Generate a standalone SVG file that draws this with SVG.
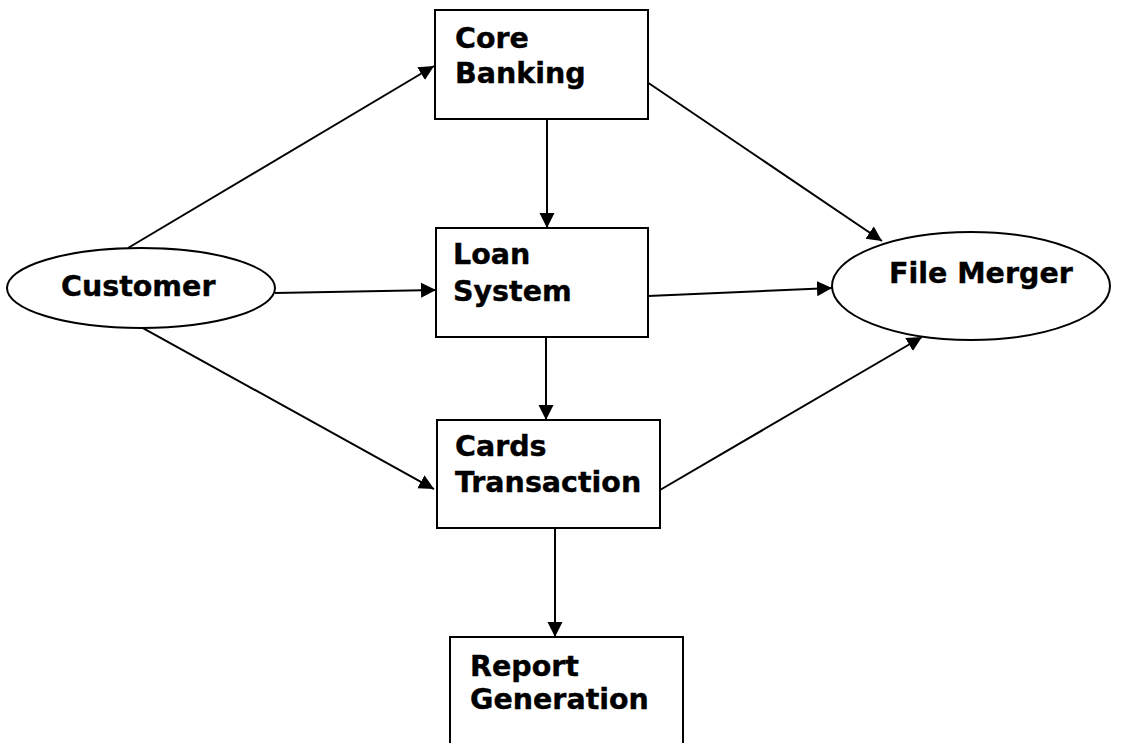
<svg xmlns="http://www.w3.org/2000/svg" width="1124" height="743" viewBox="0 0 1124 743">
  <style>
    .box { fill: #ffffff; stroke: #000000; stroke-width: 2; }
    .oval { fill: #ffffff; stroke: #000000; stroke-width: 2; }
    .label { font-family: "DejaVu Sans", Verdana, sans-serif; font-weight: bold; font-size: 28.5px; fill: #000000; stroke: #000000; stroke-width: 0.4; }
    .edge { stroke: #000000; stroke-width: 2; fill: none; marker-end: url(#arrow); }
  </style>
  <defs>
    <marker id="arrow" markerUnits="userSpaceOnUse" markerWidth="16" markerHeight="16" refX="15" refY="7.5" orient="auto">
      <path d="M0,0 L15,7.5 L0,15 z" fill="#000000"/>
    </marker>
  </defs>
  <rect width="1124" height="743" fill="#ffffff"/>

  <g id="connectors">
    <line class="edge" x1="128" y1="248" x2="434" y2="66"/>
    <line class="edge" x1="547" y1="119" x2="547" y2="228"/>
    <line class="edge" x1="647" y1="82" x2="882" y2="241"/>
    <line class="edge" x1="275" y1="293" x2="436" y2="290"/>
    <line class="edge" x1="648" y1="296" x2="832" y2="288"/>
    <line class="edge" x1="546" y1="337" x2="546" y2="420"/>
    <line class="edge" x1="143" y1="328" x2="434" y2="489"/>
    <line class="edge" x1="660" y1="490" x2="922" y2="337"/>
    <line class="edge" x1="555" y1="528" x2="555" y2="637"/>
  </g>

  <g id="core-banking">
    <rect class="box" x="435" y="10" width="213" height="109"/>
    <text class="label" x="455" y="48">Core</text>
    <text class="label" x="455" y="83">Banking</text>
  </g>

  <g id="customer">
    <ellipse class="oval" cx="141" cy="288" rx="134" ry="40"/>
    <text class="label" x="61" y="296">Customer</text>
  </g>

  <g id="loan-system">
    <rect class="box" x="436" y="228" width="212" height="109"/>
    <text class="label" x="453" y="264">Loan</text>
    <text class="label" x="453" y="301">System</text>
  </g>

  <g id="file-merger">
    <ellipse class="oval" cx="971" cy="286" rx="139" ry="54"/>
    <text class="label" x="889" y="283">File Merger</text>
  </g>

  <g id="cards-transaction">
    <rect class="box" x="437" y="420" width="223" height="108"/>
    <text class="label" x="455" y="456">Cards</text>
    <text class="label" x="455" y="492">Transaction</text>
  </g>

  <g id="report-generation">
    <rect class="box" x="450" y="637" width="233" height="120"/>
    <text class="label" x="470" y="676">Report</text>
    <text class="label" x="470" y="709">Generation</text>
  </g>
</svg>
